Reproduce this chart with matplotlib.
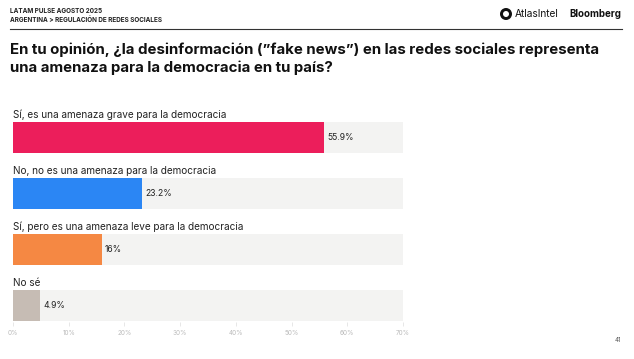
import matplotlib
matplotlib.use("Agg")
import matplotlib.pyplot as plt
from matplotlib.patches import Ellipse, RegularPolygon
import numpy as np

W, H = 634, 359

categories = [
    "Sí, es una amenaza grave para la democracia",
    "No, no es una amenaza para la democracia",
    "Sí, pero es una amenaza leve para la democracia",
    "No sé",
]
values = [55.9, 23.2, 16.0, 4.9]
value_labels = ["55.9%", "23.2%", "16%", "4.9%"]
colors = ["#EC1E5B", "#2B86F4", "#F58843", "#C6BCB4"]
ticks = [0, 10, 20, 30, 40, 50, 60, 70]

FONT = ["Inter", "DejaVu Sans"]
plt.rcParams["font.family"] = FONT

fig = plt.figure(figsize=(W / 100, H / 100), dpi=100)


def fx(px):
    return px / W


def fy(py):
    return 1 - py / H


# header
fig.text(fx(10), fy(11), "LATAM PULSE AGOSTO 2025", fontsize=4.6, fontweight="bold",
         va="center", ha="left", color="#222222")
fig.text(fx(10), fy(19.5), "ARGENTINA > REGULACIÓN DE REDES SOCIALES", fontsize=4.6,
         fontweight="bold", va="center", ha="left", color="#222222")
fig.add_artist(plt.Line2D([fx(10), fx(622)], [fy(29), fy(29)], color="#333333", lw=0.8))

# logos (sizes in px, converted per axis so the circle stays round)
fig.add_artist(Ellipse((fx(506), fy(14)), 12 / W, 12 / H, transform=fig.transFigure,
                       color="#111111", ec="none"))
fig.add_artist(Ellipse((fx(506), fy(14)), 6 / W, 6 / H, angle=0, transform=fig.transFigure,
                       color="white", ec="none"))
fig.text(fx(515), fy(14), "AtlasIntel", fontsize=7.3, va="center", ha="left", color="#111111")
fig.text(fx(621), fy(14), "Bloomberg", fontsize=7.0, fontweight="bold", va="center",
         ha="right", color="#111111")

# title
fig.text(fx(10), fy(50), "En tu opinión, ¿la desinformación (\u201dfake news\u201d) en las redes sociales representa",
         fontsize=10.8, fontweight="bold", va="center", ha="left", color="#111111")
fig.text(fx(10), fy(68), "una amenaza para la democracia en tu país?",
         fontsize=10.8, fontweight="bold", va="center", ha="left", color="#111111")

# chart axes: x 13..403 px, y 105..322 px (56 px per category row)
ax = fig.add_axes([fx(13), fy(322), fx(403) - fx(13), (322 - 105) / H])
n = len(categories)
ypos = np.arange(n)[::-1].astype(float)
bar_h = 0.55
ax.barh(ypos, [ticks[-1]] * n, height=bar_h, color="#F3F3F2", edgecolor="none")
ax.barh(ypos, values, height=bar_h, color=colors, edgecolor="none")
for y, v, lab, cat in zip(ypos, values, value_labels, categories):
    ax.text(v + 0.5, y, lab, va="center", ha="left", fontsize=6.2, color="#222222")
    ax.text(0, y + bar_h / 2 + 0.13, cat, va="center", ha="left", fontsize=7.2,
            color="#222222")

ax.set_xlim(0, ticks[-1])
ax.set_ylim(-0.30, 3.575)
ax.set_xticks(ticks)
ax.set_xticklabels([f"{t}%" for t in ticks], fontsize=4.6, color="#BBBBBB")
ax.tick_params(axis="x", length=3, width=0.5, color="#DDDDDD", pad=3)
ax.set_yticks([])
for s in ax.spines.values():
    s.set_visible(False)

fig.text(fx(621), fy(340), "41", fontsize=4.5, va="center", ha="right", color="#555555")

fig.savefig("out.png", dpi=100)
